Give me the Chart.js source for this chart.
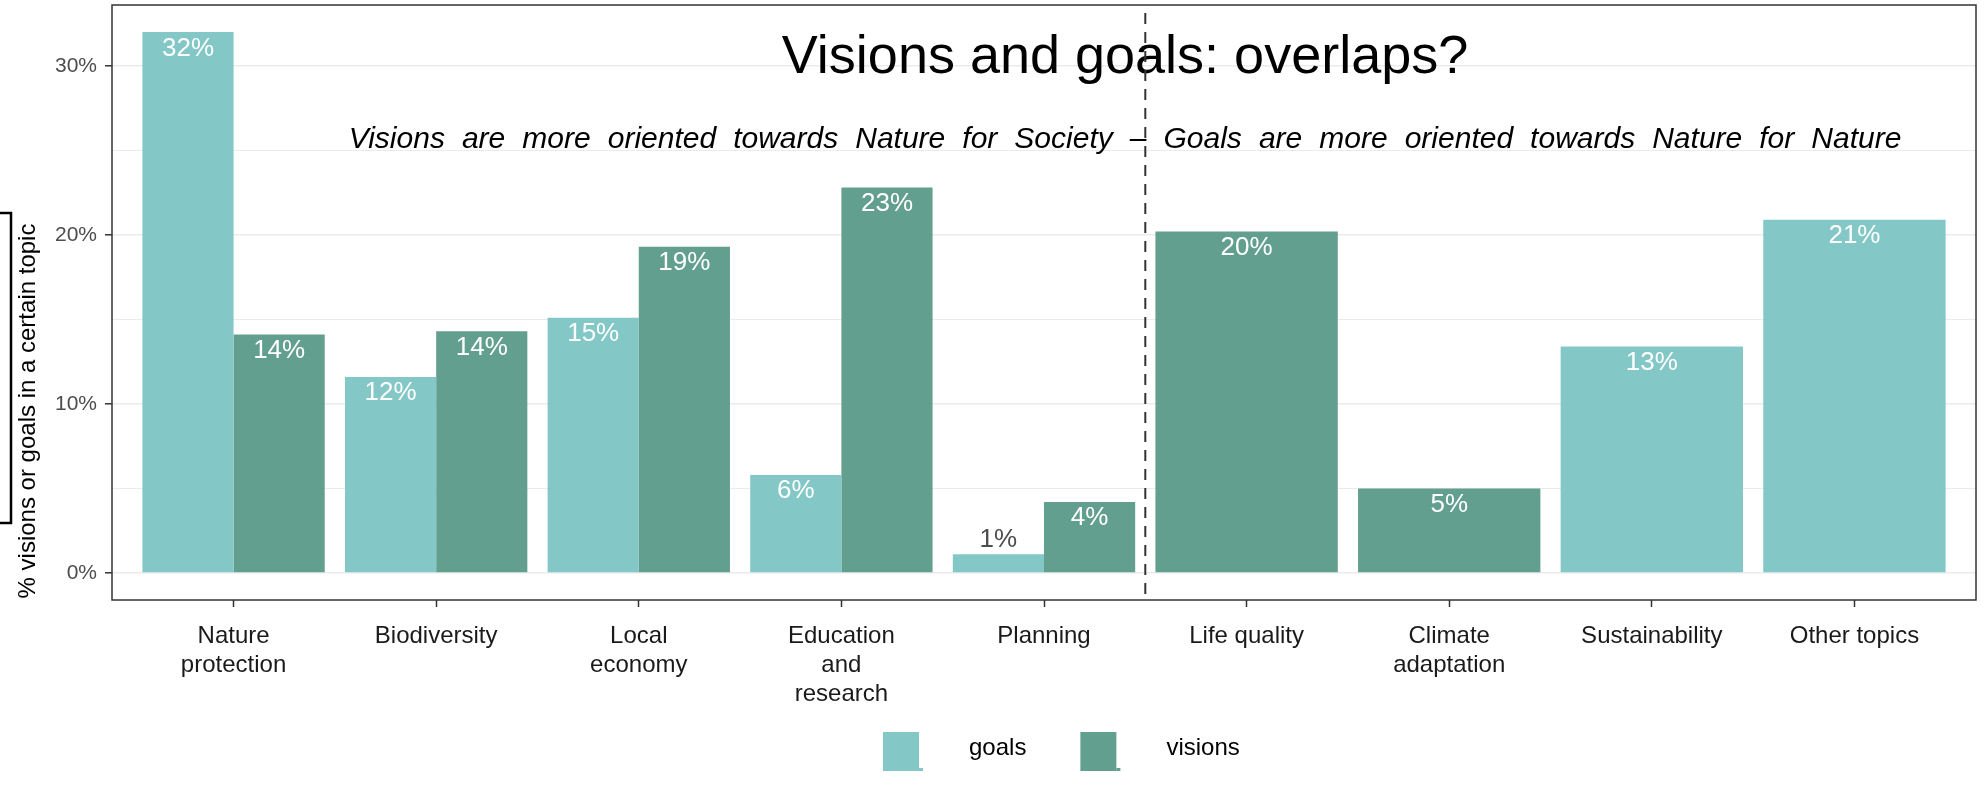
<!DOCTYPE html>
<html>
<head>
<meta charset="utf-8">
<title>Visions and goals: overlaps?</title>
<script src="https://cdn.jsdelivr.net/npm/chart.js@4"></script>
<style>
  html, body { margin: 0; padding: 0; background: #ffffff; }
  #wrap { width: 1988px; height: 798px; position: relative; }
</style>
</head>
<body>
<div id="wrap"><canvas id="chart1"></canvas></div>
<script>
// topics on the x axis (multi-line labels)
const categories = [
  ['Nature', 'protection'],
  ['Biodiversity'],
  ['Local', 'economy'],
  ['Education', 'and', 'research'],
  ['Planning'],
  ['Life quality'],
  ['Climate', 'adaptation'],
  ['Sustainability'],
  ['Other topics']
];

// % of goals / visions per topic (null = topic not present)
const goals   = [32.0, 11.6, 15.1, 5.8, 1.1, null, null, 13.4, 20.9];
const visions = [14.1, 14.3, 19.3, 22.8, 4.2, 20.2, 5.0, null, null];

const seriesNames = ['goals', 'visions'];
const seriesColors = ['#83C7C7', '#629F8E'];

// y axis: labelled ticks and the lighter in-between grid lines
const yTicks = [0, 10, 20, 30];
const yGrid = [0, 5, 10, 15, 20, 25, 30];

const titleText = 'Visions and goals: overlaps?';
const subtitleText = 'Visions are more oriented towards Nature for Society \u2013 Goals are more oriented towards Nature for Nature';
const yTitle = '% visions or goals in a certain topic';

const FONT = "'Liberation Sans', Arial, Helvetica, sans-serif";
Chart.defaults.font.family = FONT;

function toPoints(arr) {
  return arr.map((v, i) => ({ x: i, y: v }));
}

// extras drawn on top of the panel: labels, title, divider, frame, legend
const extras = {
  id: 'extras',
  afterDatasetsDraw(chart) {
    const ctx = chart.ctx;
    const area = chart.chartArea;
    const xs = chart.scales.x;

    // value labels inside the bar top (or above it when too short)
    ctx.save();
    ctx.font = '26px ' + FONT;
    ctx.textAlign = 'center';
    ctx.textBaseline = 'alphabetic';
    chart.data.datasets.forEach((ds, di) => {
      const meta = chart.getDatasetMeta(di);
      meta.data.forEach((bar, i) => {
        const v = ds.data[i].y;
        if (v === null) return;
        const txt = Math.round(v) + '%';
        if (v < 2) {
          ctx.fillStyle = '#4D4D4D';
          ctx.fillText(txt, bar.x, bar.y - 7);
        } else {
          ctx.fillStyle = '#FFFFFF';
          ctx.fillText(txt, bar.x, bar.y + 23.5);
        }
      });
    });
    ctx.restore();

    // title and subtitle annotation
    const cx = xs.getPixelForValue(4.4);
    ctx.save();
    ctx.fillStyle = '#000000';
    ctx.textAlign = 'center';
    ctx.font = '54px ' + FONT;
    ctx.fillText(titleText, cx, 73);

    ctx.font = 'italic 30px ' + FONT;
    ctx.textAlign = 'left';
    const words = subtitleText.split(' ');
    const space = ctx.measureText(' ').width + 8.7;
    let total = 0;
    words.forEach(w => { total += ctx.measureText(w).width; });
    total += space * (words.length - 1);
    let wx = cx - total / 2;
    words.forEach(w => {
      ctx.fillText(w, wx, 148);
      wx += ctx.measureText(w).width + space;
    });
    ctx.restore();

    // dashed divider between the two groups of topics
    const dx = xs.getPixelForValue(4.5);
    ctx.save();
    ctx.strokeStyle = '#333333';
    ctx.lineWidth = 2;
    ctx.setLineDash([11, 8]);
    ctx.lineDashOffset = 11;
    ctx.beginPath();
    ctx.moveTo(dx, area.top);
    ctx.lineTo(dx, area.bottom);
    ctx.stroke();
    ctx.restore();

    // panel border
    ctx.save();
    ctx.strokeStyle = '#333333';
    ctx.lineWidth = 1.5;
    ctx.strokeRect(area.left, area.top, area.right - area.left, area.bottom - area.top);
    ctx.restore();
  },
  afterDraw(chart) {
    const ctx = chart.ctx;

    // y axis title
    ctx.save();
    ctx.translate(35, 411);
    ctx.rotate(-Math.PI / 2);
    ctx.font = '24px ' + FONT;
    ctx.fillStyle = '#000000';
    ctx.textAlign = 'center';
    ctx.textBaseline = 'alphabetic';
    ctx.fillText(yTitle, 0, 0);
    ctx.restore();

    // bracket on the left edge
    ctx.save();
    ctx.strokeStyle = '#000000';
    ctx.lineWidth = 2.5;
    ctx.beginPath();
    ctx.moveTo(0, 213);
    ctx.lineTo(11, 213);
    ctx.lineTo(11, 523);
    ctx.lineTo(0, 523);
    ctx.stroke();
    ctx.restore();

    // legend
    ctx.save();
    ctx.font = '24px ' + FONT;
    ctx.textBaseline = 'alphabetic';
    let lx = 883;
    const ly = 732;
    seriesNames.forEach((name, i) => {
      ctx.fillStyle = seriesColors[i];
      ctx.fillRect(lx, ly, 36, 39);
      ctx.fillRect(lx + 36, ly + 36, 4, 3);
      ctx.fillStyle = '#000000';
      const tx = lx + 86;
      ctx.fillText(name, tx, 755);
      lx = tx + ctx.measureText(name).width + 54;
    });
    ctx.restore();
  }
};

const ctx1 = document.getElementById('chart1').getContext('2d');
const TopicGraph = new Chart(ctx1, {
  type: 'bar',
  data: {
    datasets: [
      {
        label: seriesNames[0],
        data: toPoints(goals),
        backgroundColor: seriesColors[0],
        borderWidth: 0
      },
      {
        label: seriesNames[1],
        data: toPoints(visions),
        backgroundColor: seriesColors[1],
        borderWidth: 0
      }
    ]
  },
  options: {
    responsive: true,
    maintainAspectRatio: false,
    animation: false,
    skipNull: true,
    categoryPercentage: 0.9,
    barPercentage: 1.0,
    layout: {
      padding: { top: 5, right: 12, bottom: 88, left: 0 }
    },
    plugins: {
      legend: { display: false },
      tooltip: { enabled: false },
      title: { display: false }
    },
    scales: {
      x: {
        type: 'linear',
        min: -0.6,
        max: 8.6,
        bounds: 'data',
        offset: false,
        afterBuildTicks: (s) => { s.ticks = categories.map((c, i) => ({ value: i })); },
        afterFit: (s) => { s.height = 110; s.paddingLeft = 0; s.paddingRight = 0; },
        grid: {
          offset: false,
          drawOnChartArea: false,
          drawTicks: true,
          tickLength: 7,
          tickColor: '#333333',
          tickWidth: 1.5
        },
        border: { display: false },
        ticks: {
          autoSkip: false,
          maxRotation: 0,
          padding: 15,
          color: '#1A1A1A',
          font: { size: 24, lineHeight: 1.2 },
          callback: (v) => categories[v]
        }
      },
      y: {
        type: 'linear',
        min: -1.6,
        max: 33.6,
        bounds: 'data',
        afterBuildTicks: (s) => { s.ticks = yGrid.map(v => ({ value: v })); },
        afterFit: (s) => { s.width = 112; s.paddingTop = 0; s.paddingBottom = 0; },
        grid: {
          color: '#EBEBEB',
          lineWidth: (c) => (yTicks.includes(c.tick && c.tick.value) ? 1.6 : 1),
          tickLength: 7,
          tickColor: (c) => (yTicks.includes(c.tick && c.tick.value) ? '#333333' : 'rgba(0,0,0,0)'),
          tickWidth: 1.5
        },
        border: { display: false },
        ticks: {
          padding: 8,
          color: '#4D4D4D',
          font: { size: 21 },
          callback: (v) => (yTicks.includes(v) ? v + '%' : '')
        }
      }
    }
  },
  plugins: [extras]
});
</script>
</body>
</html>
